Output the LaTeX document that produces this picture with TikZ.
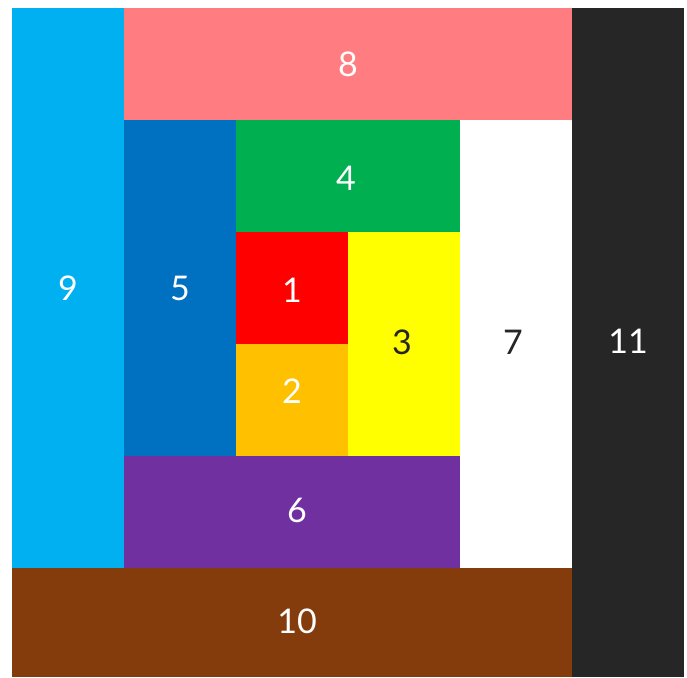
\documentclass[tikz,border=0pt]{standalone}
\usepackage{fontspec}
\setmainfont{Lato}
\definecolor{c9}{HTML}{00B0F0}
\definecolor{c8}{HTML}{FF7C80}
\definecolor{c11}{HTML}{262626}
\definecolor{c5}{HTML}{0070C0}
\definecolor{c4}{HTML}{00B050}
\definecolor{c1}{HTML}{FF0000}
\definecolor{c2}{HTML}{FFC000}
\definecolor{c3}{HTML}{FFFF00}
\definecolor{c7}{HTML}{FFFFFF}
\definecolor{c6}{HTML}{7030A0}
\definecolor{c10}{HTML}{843C0C}
\tikzset{
  cell/.style={inner sep=0pt, outer sep=0pt, font=\fontsize{34}{40}\selectfont},
  wt/.style={text=white},
  bk/.style={text=c11}
}
\begin{document}
\begin{tikzpicture}
\useasboundingbox (0,0) rectangle (687pt,-677pt);
\fill[white] (0,0) rectangle (687pt,-677pt);
\fill[c9] (12pt,-8pt) rectangle (124pt,-568pt);
\node[cell,wt] (n9) at (68pt,-288pt) {9};
\fill[c8] (124pt,-8pt) rectangle (572pt,-120pt);
\node[cell,wt] (n8) at (348pt,-64pt) {8};
\fill[c11] (572pt,-8pt) rectangle (684pt,-677pt);
\node[cell,wt] (n11) at (628pt,-341pt) {11};
\fill[c5] (124pt,-120pt) rectangle (236pt,-456pt);
\node[cell,wt] (n5) at (180pt,-288pt) {5};
\fill[c4] (236pt,-120pt) rectangle (460pt,-232pt);
\node[cell,wt] (n4) at (346pt,-178pt) {4};
\fill[c1] (236pt,-232pt) rectangle (348pt,-344pt);
\node[cell,wt] (n1) at (292pt,-290pt) {1};
\fill[c2] (236pt,-344pt) rectangle (348pt,-456pt);
\node[cell,wt] (n2) at (292pt,-391pt) {2};
\fill[c3] (348pt,-232pt) rectangle (460pt,-456pt);
\node[cell,bk] (n3) at (402pt,-342pt) {3};
\fill[c7] (460pt,-120pt) rectangle (572pt,-568pt);
\node[cell,bk] (n7) at (513pt,-342pt) {7};
\fill[c6] (124pt,-456pt) rectangle (460pt,-568pt);
\node[cell,wt] (n6) at (297pt,-510pt) {6};
\fill[c10] (12pt,-568pt) rectangle (572pt,-677pt);
\node[cell,wt] (n10) at (297pt,-621pt) {10};
\end{tikzpicture}
\end{document}
